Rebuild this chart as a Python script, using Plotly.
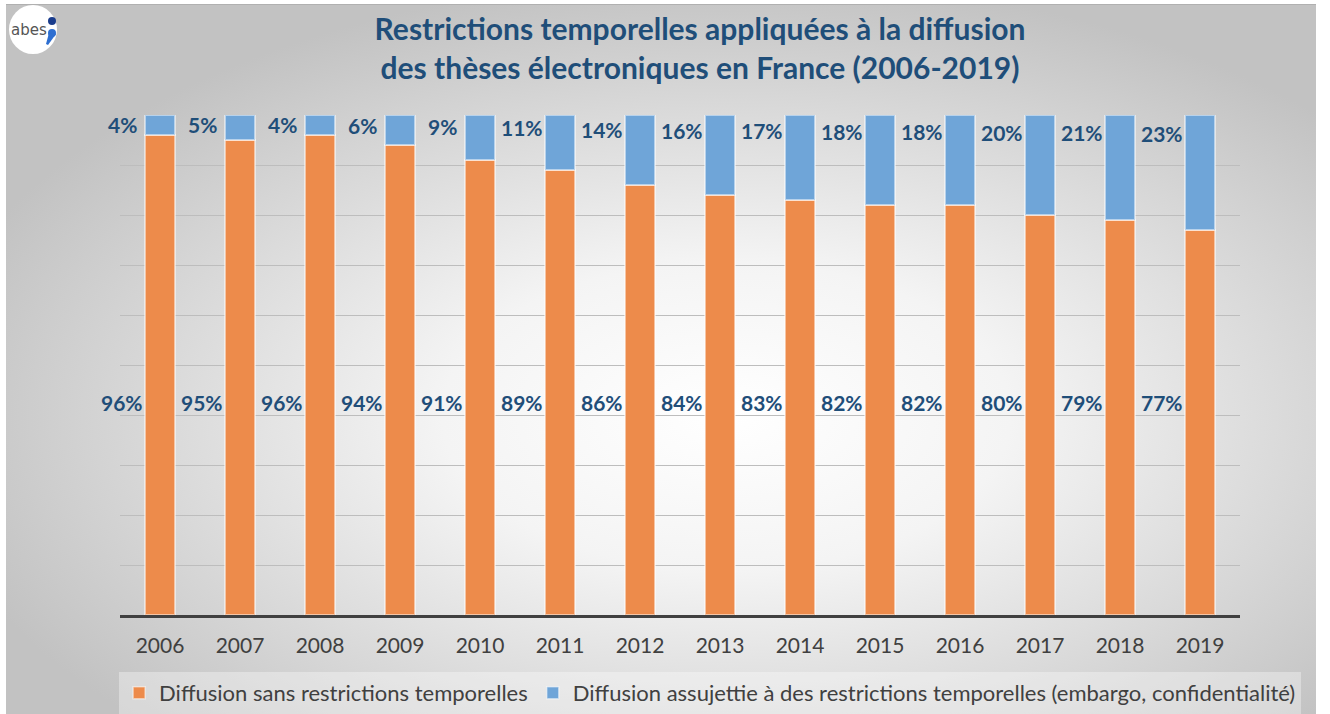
import base64
import plotly.graph_objects as go

years = ["2006", "2007", "2008", "2009", "2010", "2011", "2012",
         "2013", "2014", "2015", "2016", "2017", "2018", "2019"]
sans_restriction = [96, 95, 96, 94, 91, 89, 86, 84, 83, 82, 82, 80, 79, 77]
avec_restriction = [4, 5, 4, 6, 9, 11, 14, 16, 17, 18, 18, 20, 21, 23]

name_sans = "Diffusion sans restrictions temporelles"
name_avec = "Diffusion assujettie à des restrictions temporelles (embargo, confidentialité)"
title_text = ("<b>Restrictions temporelles appliquées à la diffusion<br>"
              "des thèses électroniques en France (2006-2019)</b>")

ORANGE = "#ED8B4B"
BLUE = "#6FA5D8"
NAVY = "#1F4E79"
FONT = "Lato"

W, H = 1330, 714
L, R, T, B = 120, 90, 115, 99
PW, PH = W - L - R, H - T - B


def px(x):
    return (x - L) / PW


def py(y):
    return (H - B - y) / PH


fig = go.Figure()
fig.add_trace(go.Bar(x=years, y=sans_restriction, name=name_sans,
                     marker=dict(color=ORANGE, line=dict(color="rgba(255,255,255,0.5)", width=1.5))))
fig.add_trace(go.Bar(x=years, y=avec_restriction, name=name_avec,
                     marker=dict(color=BLUE, line=dict(color="rgba(255,255,255,0.5)", width=1.5))))

annotations = []
for i, (s, a) in enumerate(zip(sans_restriction, avec_restriction)):
    # x given as category index (numeric-looking category strings would be read as indices)
    annotations.append(dict(x=i, y=42.5, text=f"<b>{s}%</b>", showarrow=False,
                            xanchor="center", yanchor="middle",
                            xshift=-38, font=dict(family=FONT, size=21, color=NAVY)))
    annotations.append(dict(x=i, y=98.6 - 0.1 * a, text=f"<b>{a}%</b>", showarrow=False,
                            xanchor="center", yanchor="middle",
                            xshift=-38, font=dict(family=FONT, size=21, color=NAVY)))

# logo text
annotations.append(dict(xref="paper", yref="paper", x=px(29), y=py(30),
                        xanchor="center", yanchor="middle",
                        text="abes", showarrow=False,
                        font=dict(family="DejaVu Sans", size=15, color="#555555")))

svg = '''<svg xmlns="http://www.w3.org/2000/svg" width="1310" height="710" viewBox="0 0 1310 710" preserveAspectRatio="none">
<defs><radialGradient id="g" cx="0.55" cy="0.58" r="0.62">
<stop offset="0" stop-color="#ffffff"/><stop offset="0.35" stop-color="#f4f4f4"/><stop offset="1" stop-color="#c2c2c2"/>
</radialGradient></defs>
<rect x="0" y="0" width="1310" height="710" fill="url(#g)"/>
<line x1="0" y1="0.5" x2="1310" y2="0.5" stroke="#b0b0b0" stroke-width="1"/>
</svg>'''
src = "data:image/svg+xml;base64," + base64.b64encode(svg.encode()).decode()

comma_tail = (f"M {px(49)},{py(33)} L {px(56)},{py(34)} "
              f"L {px(48)},{py(45)} L {px(46)},{py(44)} Z")

shapes = [
    dict(type="circle", xref="paper", yref="paper", layer="above",
         x0=px(9), x1=px(57), y0=py(54), y1=py(5),
         fillcolor="white", line=dict(width=0)),
    dict(type="circle", xref="paper", yref="paper", layer="above",
         x0=px(48), x1=px(56), y0=py(25), y1=py(17),
         fillcolor="#1A3C8C", line=dict(width=0)),
    dict(type="circle", xref="paper", yref="paper", layer="above",
         x0=px(48), x1=px(56), y0=py(37), y1=py(29),
         fillcolor="#2E6FD1", line=dict(width=0)),
    dict(type="path", xref="paper", yref="paper", layer="above",
         path=comma_tail, fillcolor="#2E6FD1", line=dict(width=0)),
]

fig.update_layout(
    width=W, height=H,
    margin=dict(l=L, r=R, t=T, b=B, autoexpand=False),
    paper_bgcolor="white",
    plot_bgcolor="rgba(0,0,0,0)",
    barmode="stack",
    bargap=0.62,
    title=dict(text=title_text, x=700 / W, xref="container", xanchor="center",
               y=1 - 40 / H, yref="container", yanchor="top",
               font=dict(family=FONT, size=30, color=NAVY)),
    font=dict(family=FONT, color="#404040"),
    xaxis=dict(type="category", range=[-0.5, len(years) - 0.5],
               showline=True, linecolor="#404040", linewidth=3, ticks="",
               tickfont=dict(family=FONT, size=21, color="#404040"),
               ticklabelstandoff=10, showgrid=False),
    yaxis=dict(range=[0, 100], dtick=10, showticklabels=False, showgrid=True,
               gridcolor="#bdbdbd", gridwidth=1, zeroline=False),
    legend=dict(orientation="h", x=-0.0008, xanchor="left",
                y=py(672), yanchor="top",
                bgcolor="rgba(255,255,255,0.35)",
                font=dict(family=FONT, size=22, color="#404040"),
                itemwidth=30, traceorder="normal"),
    images=[dict(source=src, xref="paper", yref="paper", x=px(6), y=py(4),
                 sizex=px(1316) - px(6), sizey=py(4) - py(714), sizing="stretch",
                 xanchor="left", yanchor="top", layer="below")],
    annotations=annotations,
    shapes=shapes,
)

fig.write_html("out.html", config={"displayModeBar": False},
               post_script="document.body.style.margin='0';")
